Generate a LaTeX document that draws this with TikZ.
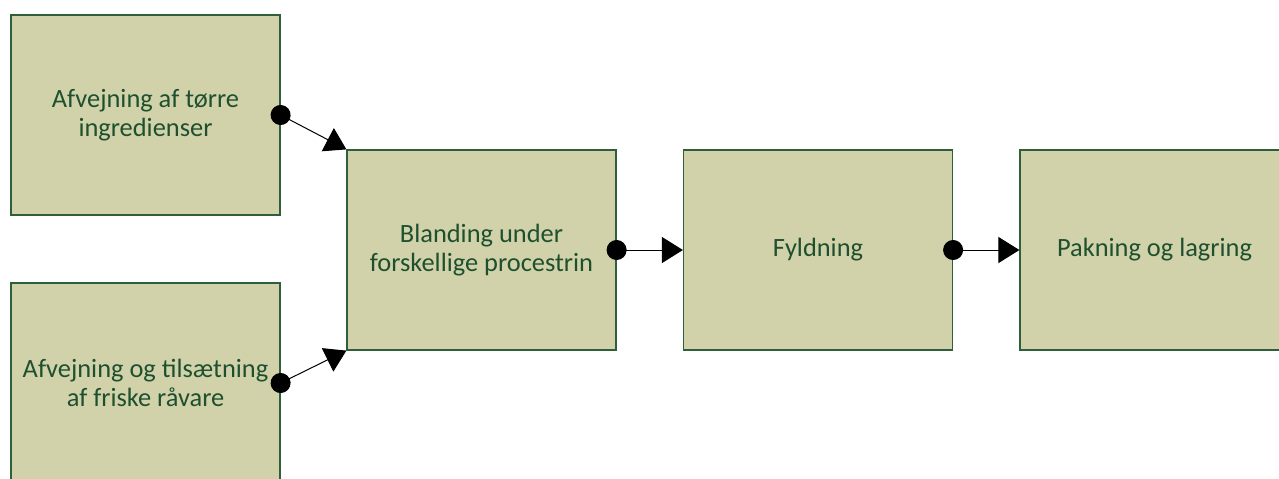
\documentclass[tikz,border=0pt]{standalone}
\usepackage{fontspec}
\setmainfont{Carlito}
\usetikzlibrary{arrows.meta,positioning}
\definecolor{boxfill}{HTML}{D1D2A9}
\definecolor{boxline}{HTML}{2F5F3A}
\definecolor{boxtext}{HTML}{1E5030}

\begin{document}
\begin{tikzpicture}[
      x=0.5pt,y=-0.5pt,
      process/.style={
         rectangle,
         minimum width=134.5pt,
         minimum height=100pt,
         inner sep=0pt,
         fill=boxfill,
         draw=boxline,
         line width=0.6pt,
         align=center,
         text=boxtext,
         font=\fontsize{13.2pt}{14.8pt}\selectfont
      },
      link/.style={
         {Circle[length=10pt]}-{Triangle[length=10.5pt,width=13pt]},
         shorten <=-5pt,
         line width=0.5pt,
         black
      }
    ]
    \useasboundingbox (0,0) rectangle (1279,478);
    \node (tor) [process] at (145.5,115) {Afvejning af tørre\\ingredienser};
    \node (fri) [process] at (145.5,383) {Afvejning og tilsætning\\af friske råvare};
    \node (bla) [process] at (481.5,250) {Blanding under\\forskellige procestrin};
    \node (fyl) [process] at (818,250) {Fyldning};
    \node (pak) [process] at (1154.5,250) {Pakning og lagring};
    \draw[link] (tor.east) -- (bla.north west);
    \draw[link] (fri.east) -- (bla.south west);
    \draw[link] (bla.east) -- (fyl.west);
    \draw[link] (fyl.east) -- (pak.west);
\end{tikzpicture}
\end{document}
